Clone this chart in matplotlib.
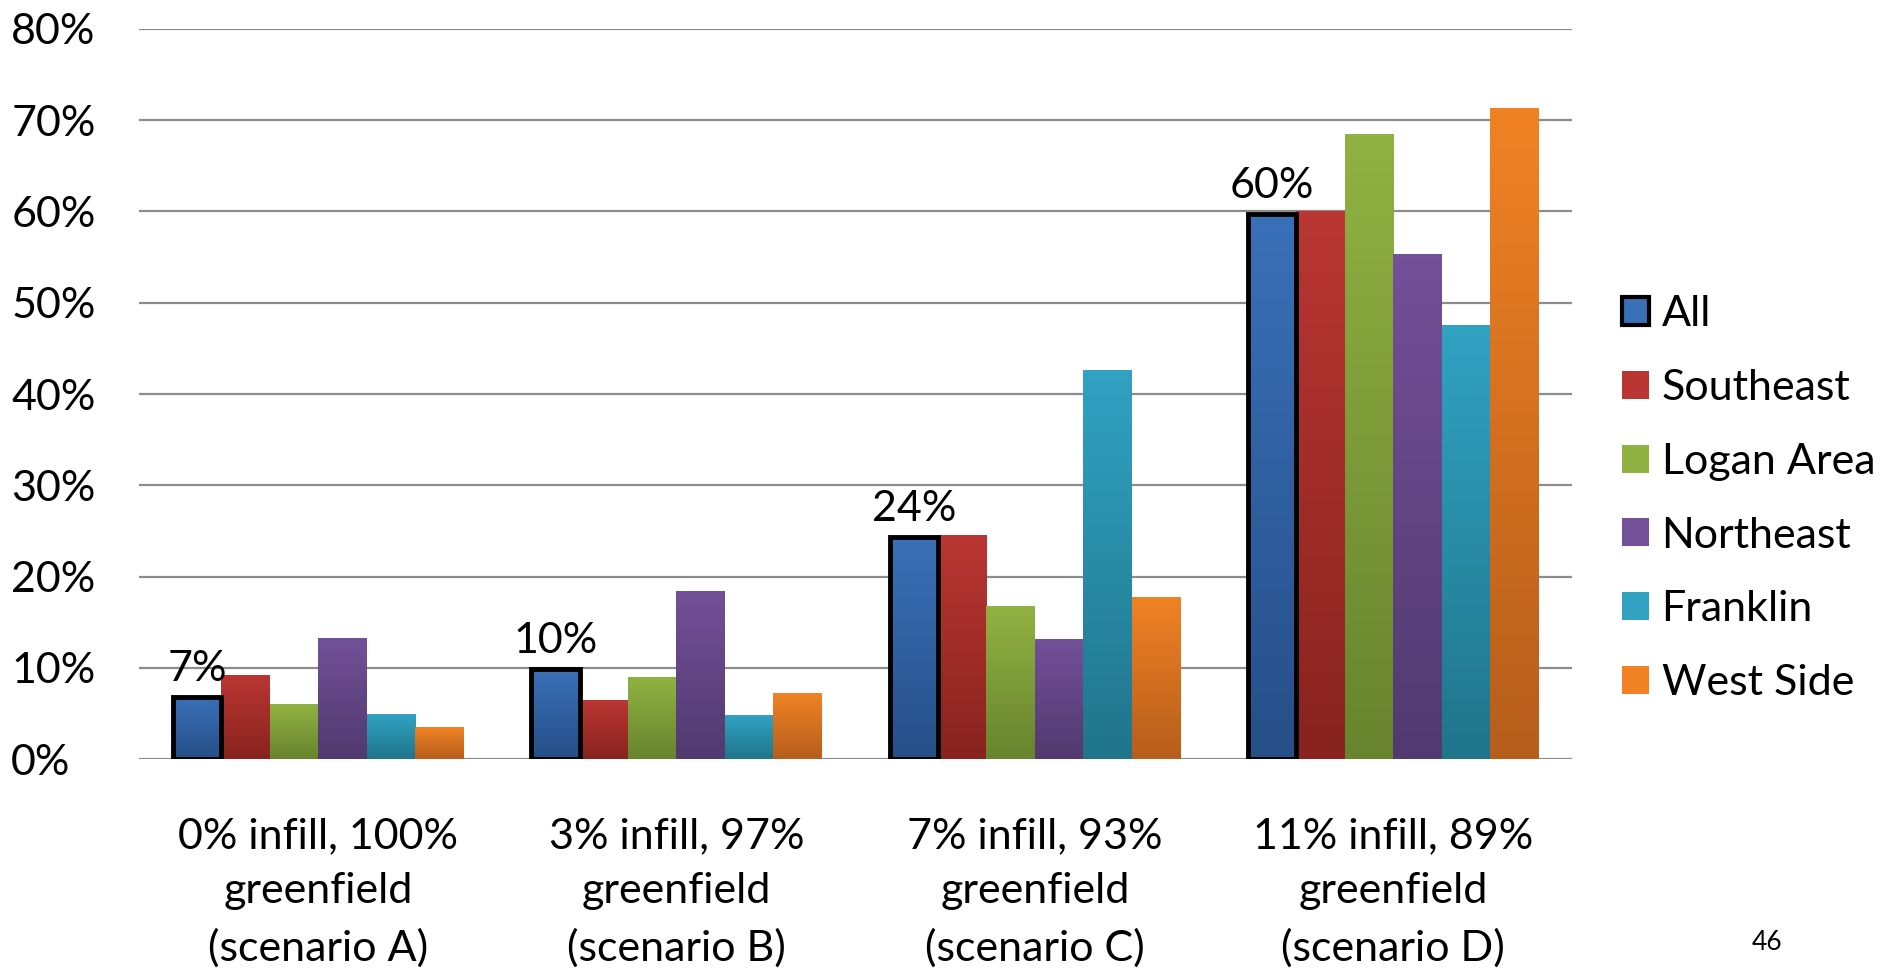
import numpy as np
import matplotlib
matplotlib.use("Agg")
import matplotlib.pyplot as plt
from matplotlib.colors import LinearSegmentedColormap
from matplotlib.patches import Rectangle, Patch

plt.rcParams['font.family'] = ['Lato', 'DejaVu Sans']

# data
scenarios = ["0% infill, 100%\ngreenfield\n(scenario A)",
             "3% infill, 97%\ngreenfield\n(scenario B)",
             "7% infill, 93%\ngreenfield\n(scenario C)",
             "11% infill, 89%\ngreenfield\n(scenario D)"]
regions = ["All", "Southeast", "Logan Area", "Northeast", "Franklin", "West Side"]
all_vals = [6.8, 9.9, 24.3, 59.7]
southeast = [9.2, 6.4, 24.5, 60.0]
logan = [6.0, 8.9, 16.7, 68.4]
northeast = [13.2, 18.4, 13.1, 55.3]
franklin = [4.9, 4.8, 42.6, 47.5]
west_side = [3.4, 7.2, 17.7, 71.3]
all_labels = ["7%", "10%", "24%", "60%"]

series = [all_vals, southeast, logan, northeast, franklin, west_side]
# (top colour, bottom colour)
colors = [("#3a70b8", "#264f88"),
          ("#ba3632", "#88231f"),
          ("#90b242", "#68842e"),
          ("#735098", "#513a6f"),
          ("#31a2c2", "#20758b"),
          ("#f08224", "#b65e1c")]

FS = 31

fig = plt.figure(figsize=(18.96, 9.76), dpi=100)
ax = fig.add_axes([0.0733, 0.2223, 0.756, 0.748])

width = 0.135
x = np.arange(len(scenarios))

for j, vals in enumerate(series):
    top, bot = colors[j]
    cmap = LinearSegmentedColormap.from_list("g%d" % j, [bot, top])
    grad = np.linspace(0, 1, 100).reshape(-1, 1)
    for i, v in enumerate(vals):
        x0 = x[i] + (j - 2.5) * width - width / 2
        ax.imshow(grad, extent=[x0, x0 + width, 0, v], origin="lower",
                  aspect="auto", cmap=cmap, zorder=3)
        if j == 0:
            ax.add_patch(Rectangle((x0, 0), width, v, fill=False,
                                   edgecolor="black", linewidth=3.5, zorder=4))
            ax.text(x0 + width / 2, v + 1.0, all_labels[i], ha="center", va="bottom",
                    fontsize=FS, zorder=5)

ax.set_xlim(-0.5, 3.5)
ax.set_ylim(0, 80)
ax.set_yticks(range(0, 81, 10))
ax.set_yticklabels(["%d%%" % t for t in range(0, 81, 10)], fontsize=FS)
ax.set_xticks(x)
ax.set_xticklabels(scenarios, fontsize=FS, linespacing=1.55)
ax.tick_params(axis="both", length=0)
ax.tick_params(axis="x", pad=42)
for lbl in ax.get_yticklabels():
    lbl.set_horizontalalignment("left")
ax.tick_params(axis="y", pad=92)
ax.grid(axis="y", color="#8c8c8c", linewidth=1.6, zorder=0)
ax.set_axisbelow(True)
for s in ax.spines.values():
    s.set_visible(False)

handles = []
for j, name in enumerate(regions):
    mid = colors[j][0]
    if j == 0:
        handles.append(Patch(facecolor=mid, edgecolor="black", linewidth=3))
    else:
        handles.append(Patch(facecolor=mid, edgecolor="none"))
fig.legend(handles, regions, loc="center left", bbox_to_anchor=(0.835, 0.489),
           frameon=False, fontsize=FS, labelspacing=0.83, handlelength=0.62,
           handleheight=0.62, handletextpad=0.3)

fig.text(0.932, 0.034, "46", fontsize=19, ha="center", va="center")

fig.savefig("out.png", dpi=100)
